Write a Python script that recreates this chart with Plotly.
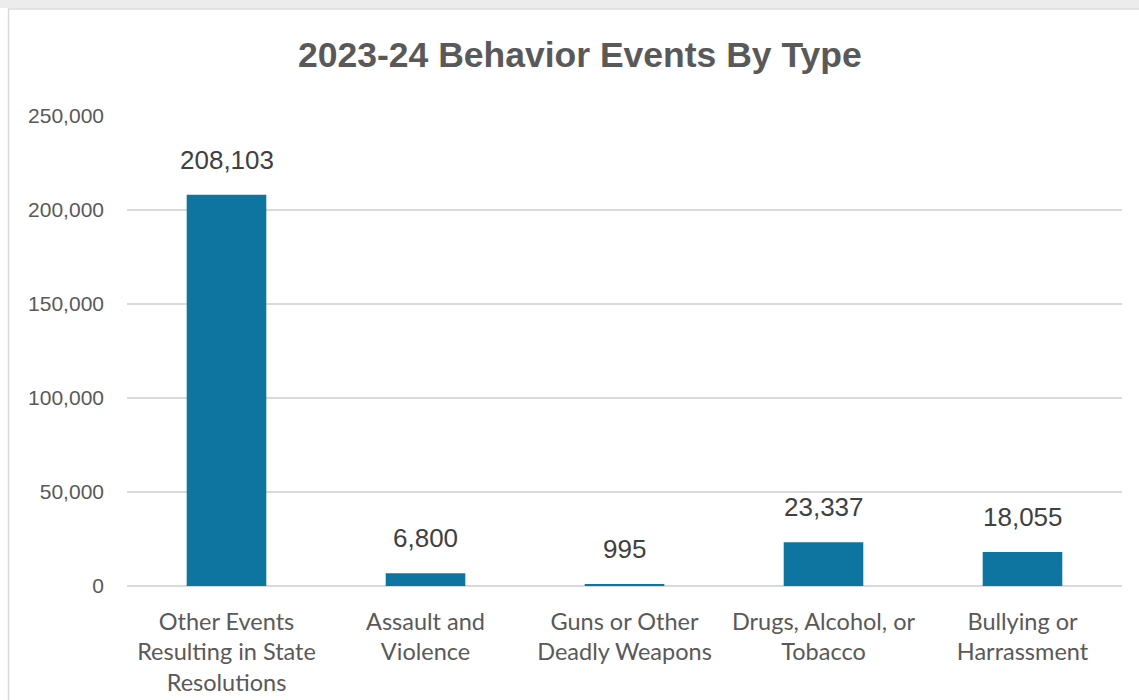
import plotly.graph_objects as go

categories = [
    "Other Events<br>Resulting in State<br>Resolutions",
    "Assault and<br>Violence",
    "Guns or Other<br>Deadly Weapons",
    "Drugs, Alcohol, or<br>Tobacco",
    "Bullying or<br>Harrassment",
]
values = [208103, 6800, 995, 23337, 18055]
y_ticks = [0, 50000, 100000, 150000, 200000, 250000]
y_tick_labels = ["0", "50,000", "100,000", "150,000", "200,000", "250,000"]

L, R, T, B = 127, 17, 116, 114
W, H = 1139, 700
pw, ph = W - L - R, H - T - B

def px_x(p):
    return (p - L) / pw

def px_y(p):
    return (H - B - p) / ph

fig = go.Figure()
fig.add_trace(go.Bar(
    x=categories, y=values,
    marker=dict(color="#0E75A0", line=dict(width=0)),
    hoverinfo="skip",
))

annotations = []
for c, v in zip(categories, values):
    annotations.append(dict(
        x=c, y=v, xref="x", yref="y", text=f"{v:,}", showarrow=False,
        yanchor="bottom", yshift=18,
        font=dict(family="Liberation Sans, Arial, sans-serif", size=26, color="#404040"),
    ))
annotations.append(dict(
    x=0.5, y=px_y(55), xref="paper", yref="paper", xanchor="center", yanchor="middle",
    text="<b>2023-24 Behavior Events By Type</b>", showarrow=False,
    font=dict(family="Liberation Sans, Arial, sans-serif", size=35.5, color="#595959"),
    xshift=-45,
))

fig.update_layout(
    width=W, height=H,
    margin=dict(l=L, r=R, t=T, b=B, pad=0, autoexpand=False),
    paper_bgcolor="white", plot_bgcolor="white",
    showlegend=False,
    bargap=0.6,
    annotations=annotations,
    shapes=[
        dict(type="rect", xref="paper", yref="paper",
             x0=px_x(-5), x1=px_x(W + 5), y0=px_y(0), y1=px_y(8),
             fillcolor="#ececec", line=dict(width=0), layer="below"),
        dict(type="rect", xref="paper", yref="paper",
             x0=px_x(8.5), x1=px_x(W + 20), y0=px_y(H + 20), y1=px_y(9),
             fillcolor="rgba(0,0,0,0)", line=dict(color="#d9d9d9", width=1.5), layer="below"),
    ],
    xaxis=dict(
        automargin=False,
        showgrid=False, zeroline=False, showline=False, ticks="",
        tickfont=dict(family="Lato, Noto Sans, sans-serif", size=23.5, color="#595959"),
        ticklabelstandoff=19,
    ),
    yaxis=dict(
        automargin=False,
        range=[0, 250000], tickvals=y_ticks, ticktext=y_tick_labels,
        showgrid=True, gridcolor="#d9d9d9", gridwidth=1.5,
        zeroline=True, zerolinecolor="#d9d9d9", zerolinewidth=1.5,
        showline=False, ticks="",
        tickfont=dict(family="Liberation Sans, Arial, sans-serif", size=21, color="#595959"),
        ticklabelstandoff=22,
    ),
)

fig.write_html("out.html")
